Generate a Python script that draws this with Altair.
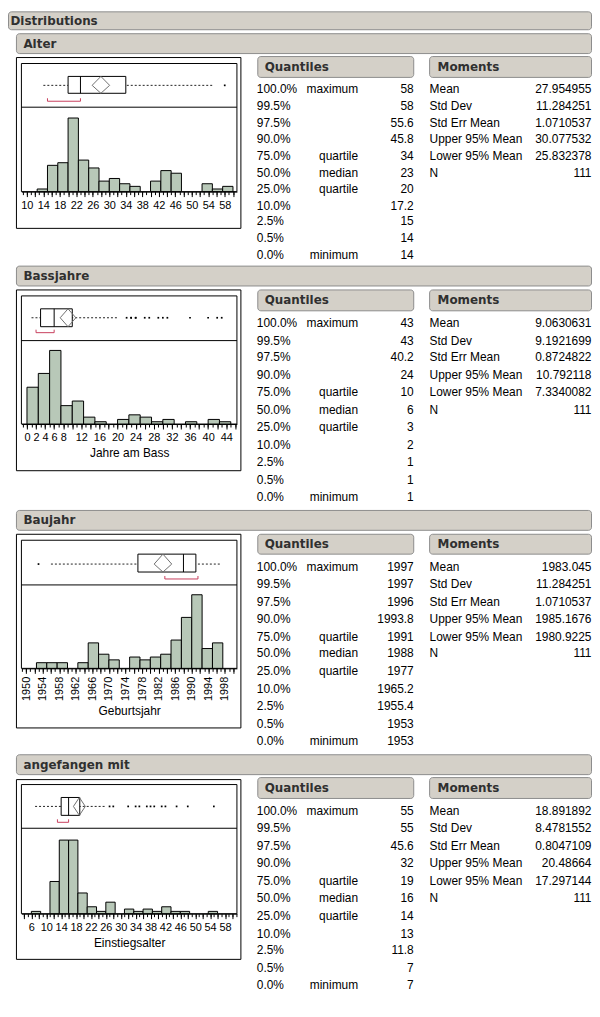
import json
import math
import altair as alt
import pandas as pd

# ---------------- values ----------------
section_names = ["Alter", "Bassjahre", "Baujahr", "angefangen mit"]
axis_titles = ["", "Jahre am Bass", "Geburtsjahr", "Einstiegsalter"]
bin_width = 2.5

alter_bin_start = 12.5
alter_counts = [1, 10, 11, 28, 12, 9, 4, 5, 3, 2, 0, 4, 8, 7, 0, 0, 3, 1, 2]
bass_bin_start = 0
bass_counts = [16, 22, 32, 8, 10, 3, 1, 0, 2, 4, 3, 1, 2, 0, 1, 0, 2, 1]
bau_bin_start = 1952.5
bau_counts = [2, 2, 2, 0, 2, 9, 5, 3, 0, 4, 3, 4, 5, 10, 18, 26, 7, 9]
anf_bin_start = 6
anf_counts = [1, 0, 14, 32, 32, 9, 3, 1, 5, 0, 2, 1, 2, 1, 3, 1, 1, 0, 0, 1]

quantile_levels = ["100.0%", "99.5%", "97.5%", "90.0%", "75.0%", "50.0%",
                   "25.0%", "10.0%", "2.5%", "0.5%", "0.0%"]
quantile_names = ["maximum", "", "", "", "quartile", "median", "quartile",
                  "", "", "", "minimum"]
alter_quantiles = [58, 58, 55.6, 45.8, 34, 23, 20, 17.2, 15, 14, 14]
bass_quantiles = [43, 43, 40.2, 24, 10, 6, 3, 2, 1, 1, 1]
bau_quantiles = [1997, 1997, 1996, 1993.8, 1991, 1988, 1977, 1965.2, 1955.4, 1953, 1953]
anf_quantiles = [55, 55, 45.6, 32, 19, 16, 14, 13, 11.8, 7, 7]

moment_names = ["Mean", "Std Dev", "Std Err Mean", "Upper 95% Mean", "Lower 95% Mean", "N"]
alter_moments = [27.954955, 11.284251, 1.0710537, 30.077532, 25.832378, 111]
bass_moments = [9.0630631, 9.1921699, 0.8724822, 10.792118, 7.3340082, 111]
bau_moments = [1983.045, 11.284251, 1.0710537, 1985.1676, 1980.9225, 111]
anf_moments = [18.891892, 8.4781552, 0.8047109, 20.48664, 17.297144, 111]

alter_whiskers = [14, 55]
bass_whiskers = [1, 20]
bau_whiskers = [1956, 1997]
anf_whiskers = [7, 26]

alter_shortest_half = [15, 23]
bass_shortest_half = [2, 6]
bau_shortest_half = [1983.5, 1991.5]
anf_shortest_half = [13, 16]

alter_outliers = [58]
bass_outliers = [22, 23, 23, 24, 24, 26, 27, 29, 30, 31, 36, 40, 42, 43]
bau_outliers = [1953]
anf_outliers = [27, 28, 32, 34, 35, 37, 38, 39, 41, 42, 45, 48, 55]

alter_tick_labels = [10, 14, 18, 22, 26, 30, 34, 38, 42, 46, 50, 54, 58]
bass_tick_labels = [0, 2, 4, 6, 8, 12, 16, 20, 24, 28, 32, 36, 40, 44]
bau_tick_labels = [1950, 1954, 1958, 1962, 1966, 1970, 1974, 1978, 1982, 1986, 1990, 1994, 1998]
anf_tick_labels = [6, 10, 14, 18, 22, 26, 30, 34, 38, 42, 46, 50, 54, 58]

# axis extents of each panel
alter_domain = [8.675, 60.96]
bass_domain = [-1.23, 46.36]
bau_domain = [1948.87, 2000.91]
anf_domain = [3.33, 61.2]

# ---------------- layout / style ----------------
W, H = 588, 984
SY = 0.975
BAR = "#b8c8b8"
HDR_FILL = "#d4d0c8"
HDR_STROKE = "#8c8c8c"
RED = "#c8405e"
FONT = "Liberation Sans"
BFONT = "DejaVu Sans"


def X(r):
    return min(W - 0.5, round(max(0.0, r - 8)) + 0.5)


def Y(r):
    return round(max(0.0, (r - 4) * SY)) + 0.5


sections = [
    dict(counts=alter_counts, start=alter_bin_start, q=alter_quantiles, m=alter_moments,
         wh=alter_whiskers, sh=alter_shortest_half, out=alter_outliers,
         labels=alter_tick_labels, dom=alter_domain, angle=0,
         top=26.5, outer=(51.5, 228), inner=57, div=102.3, base=189.5,
         box=(70.3, 88.3), br=96, row0=84.3, rstep=17.07),
    dict(counts=bass_counts, start=bass_bin_start, q=bass_quantiles, m=bass_moments,
         wh=bass_whiskers, sh=bass_shortest_half, out=bass_outliers,
         labels=bass_tick_labels, dom=bass_domain, angle=0,
         top=267, outer=(291, 478.3), inner=297.3, div=343.7, base=430,
         box=(311, 329.3), br=335.7, row0=325, rstep=18),
    dict(counts=bau_counts, start=bau_bin_start, q=bau_quantiles, m=bau_moments,
         wh=bau_whiskers, sh=bau_shortest_half, out=bau_outliers,
         labels=bau_tick_labels, dom=bau_domain, angle=270,
         top=519, outer=(544, 743), inner=549.5, div=596, base=681.7,
         box=(563.5, 582), br=589.5, row0=577, rstep=18),
    dict(counts=anf_counts, start=anf_bin_start, q=anf_quantiles, m=anf_moments,
         wh=anf_whiskers, sh=anf_shortest_half, out=anf_outliers,
         labels=anf_tick_labels, dom=anf_domain, angle=0,
         top=771, outer=(796.5, 982.3), inner=801.7, div=847.3, base=935,
         box=(815, 833.3), br=840.7, row0=829.3, rstep=18),
]

layers = []

# ---------------- frames ----------------
frame_rows, divider_rows = [], []
for s in sections:
    frame_rows.append(dict(x0=X(16), x1=X(242), y0=Y(s["outer"][0]), y1=Y(s["outer"][1])))
    frame_rows.append(dict(x0=X(21), x1=X(238), y0=Y(s["inner"]), y1=Y(s["base"])))
    divider_rows.append(dict(x0=X(21), x1=X(238), y0=Y(s["div"])))
frames = pd.DataFrame(frame_rows)
dividers = pd.DataFrame(divider_rows)
layers.append(
    alt.Chart(frames).mark_rect(fillOpacity=0, stroke="black", strokeWidth=1).encode(
        x=alt.X("x0:Q", scale=None, axis=None), x2="x1",
        y=alt.Y("y0:Q", scale=None, axis=None), y2="y1")
)
layers.append(
    alt.Chart(dividers).mark_rule(color="black", strokeWidth=1).encode(
        x=alt.X("x0:Q", scale=None, axis=None), x2="x1",
        y=alt.Y("y0:Q", scale=None, axis=None))
)

# ---------------- histograms + box plots ----------------
for k, s in enumerate(sections):
    dom = s["dom"]
    xsc = alt.Scale(domain=dom, range=[X(21), X(238)], nice=False, zero=False)
    base = Y(s["base"])
    off = -(H - base)
    counts = s["counts"]
    b0 = [s["start"] + i * bin_width for i in range(len(counts))]
    hist = pd.DataFrame({"b0": b0, "b1": [b + bin_width for b in b0], "n": counts})
    hist = hist[hist["n"] > 0]

    lo_i, hi_i = math.ceil(dom[0]), math.floor(dom[1])
    major = [v for v in range(lo_i, hi_i + 1) if v % 2 == 0]
    minor = list(range(lo_i, hi_i + 1))
    lab_expr = "indexof(%s, datum.value) >= 0 ? datum.label : ''" % json.dumps(s["labels"])

    axis_kw = dict(
        orient="bottom", offset=off, values=major, format="d", labelExpr=lab_expr,
        tickSize=5, tickColor="black", domainColor="black", labelColor="black",
        labelFont=FONT, labelFontSize=11, labelPadding=3, labelOverlap=False,
        labelFlush=False, labelBound=False, grid=False, zindex=1,
        title=axis_titles[k], titleFont=FONT, titleFontSize=12, titleFontWeight="normal",
        titleColor="black", titlePadding=5,
    )
    if s["angle"]:
        axis_kw.update(labelAngle=270, labelAlign="right", labelBaseline="middle")
    ysc = alt.Scale(domain=[0, max(counts)], range=[base, base - 76 * SY],
                    nice=False, zero=False)
    layers.append(
        alt.Chart(hist).mark_rect(fill=BAR, stroke="black", strokeWidth=1).encode(
            x=alt.X("b0:Q", scale=xsc, axis=alt.Axis(**axis_kw)), x2="b1",
            y=alt.Y("n:Q", scale=ysc, axis=None), y2=alt.datum(0))
    )
    layers.append(
        alt.Chart(hist).mark_point(opacity=0, size=1).encode(
            x=alt.X("b0:Q", scale=xsc, axis=alt.Axis(
                orient="bottom", offset=off, values=minor, tickSize=3, labels=False,
                domain=False, grid=False, title="", tickColor="black", zindex=1)),
            y=alt.value(base - 20))
    )

    q1, med, q3 = s["q"][6], s["q"][5], s["q"][4]
    mean, hi95, lo95 = s["m"][0], s["m"][3], s["m"][4]
    btop, bbot = Y(s["box"][0]), Y(s["box"][1])
    cy = round((btop + bbot) / 2) + 0.5

    wdf = pd.DataFrame({"a": [s["wh"][0]], "b": [s["wh"][1]]})
    layers.append(
        alt.Chart(wdf).mark_rule(color="#222222", strokeDash=[2, 2], strokeWidth=1).encode(
            x=alt.X("a:Q", scale=xsc, axis=None), x2="b", y=alt.value(cy))
    )
    bdf = pd.DataFrame({"q1": [q1], "q3": [q3], "med": [med]})
    layers.append(
        alt.Chart(bdf).mark_rect(fill="white", stroke="black", strokeWidth=1).encode(
            x=alt.X("q1:Q", scale=xsc, axis=None), x2="q3",
            y=alt.value(btop), y2=alt.value(bbot))
    )
    layers.append(
        alt.Chart(bdf).mark_rule(color="black", strokeWidth=1).encode(
            x=alt.X("med:Q", scale=xsc, axis=None),
            y=alt.value(btop), y2=alt.value(bbot))
    )
    ddf = pd.DataFrame({"end": [lo95, hi95], "mean": [mean, mean]})
    for yy in (btop, bbot):
        layers.append(
            alt.Chart(ddf).mark_rule(color="#707070", strokeWidth=1).encode(
                x=alt.X("end:Q", scale=xsc, axis=None), x2="mean",
                y=alt.value(cy), y2=alt.value(yy))
        )
    yb = Y(s["br"])
    sdf = pd.DataFrame({"a": [s["sh"][0]], "b": [s["sh"][1]]})
    layers.append(
        alt.Chart(sdf).mark_rule(color=RED, strokeWidth=1).encode(
            x=alt.X("a:Q", scale=xsc, axis=None), x2="b", y=alt.value(yb))
    )
    sedf = pd.DataFrame({"v": s["sh"]})
    layers.append(
        alt.Chart(sedf).mark_rule(color=RED, strokeWidth=1).encode(
            x=alt.X("v:Q", scale=xsc, axis=None), y=alt.value(yb), y2=alt.value(yb - 3))
    )
    odf = pd.DataFrame({"v": s["out"]})
    layers.append(
        alt.Chart(odf).mark_square(size=3, color="black", opacity=1).encode(
            x=alt.X("v:Q", scale=xsc, axis=None), y=alt.value(cy))
    )

# ---------------- headers ----------------
hdr_rows = [dict(x0=X(2), x1=X(598), y0=Y(2), y1=Y(22.5), t="Distributions", tx=X(10))]
for k, s in enumerate(sections):
    top = s["top"]
    hdr_rows.append(dict(x0=X(16), x1=X(598), y0=Y(top), y1=Y(top + 20.5),
                         t=section_names[k], tx=X(23)))
    hdr_rows.append(dict(x0=X(259), x1=X(416.5), y0=Y(top + 24), y1=Y(top + 45.5),
                         t="Quantiles", tx=X(266.5)))
    hdr_rows.append(dict(x0=X(432.5), x1=X(598), y0=Y(top + 24), y1=Y(top + 45.5),
                         t="Moments", tx=X(439.5)))
hdr = pd.DataFrame(hdr_rows)
hdr["ty"] = (hdr["y0"] + hdr["y1"]) / 2
layers.append(
    alt.Chart(hdr).mark_rect(fill=HDR_FILL, stroke=HDR_STROKE, strokeWidth=1,
                             cornerRadius=3).encode(
        x=alt.X("x0:Q", scale=None, axis=None), x2="x1",
        y=alt.Y("y0:Q", scale=None, axis=None), y2="y1")
)
layers.append(
    alt.Chart(hdr).mark_text(align="left", baseline="middle", font=BFONT, fontSize=12,
                             fontWeight="bold", color="#303030").encode(
        x=alt.X("tx:Q", scale=None, axis=None),
        y=alt.Y("ty:Q", scale=None, axis=None), text="t:N")
)

# ---------------- tables ----------------
left_rows, right_rows = [], []
for s in sections:
    for i in range(len(quantile_levels)):
        y = Y(s["row0"] + i * s["rstep"])
        left_rows.append(dict(x=X(258.5), y=y, t=quantile_levels[i]))
        if quantile_names[i]:
            right_rows.append(dict(x=X(359.5), y=y, t=quantile_names[i]))
        right_rows.append(dict(x=X(416), y=y, t=str(s["q"][i])))
    for j in range(len(moment_names)):
        y = Y(s["row0"] + j * s["rstep"])
        left_rows.append(dict(x=X(432.5), y=y, t=moment_names[j]))
        right_rows.append(dict(x=X(596), y=y, t=str(s["m"][j])))
for rows, al in ((left_rows, "left"), (right_rows, "right")):
    layers.append(
        alt.Chart(pd.DataFrame(rows)).mark_text(align=al, baseline="middle", font=FONT,
                                                fontSize=12, color="black").encode(
            x=alt.X("x:Q", scale=None, axis=None),
            y=alt.Y("y:Q", scale=None, axis=None), text="t:N")
    )

chart = (
    alt.layer(*layers)
    .resolve_scale(x="independent", y="independent")
    .properties(width=W, height=H, padding=0)
    .configure_view(stroke="transparent")
)
chart.save("out.html", embed_options={"renderer": "svg", "actions": False})
